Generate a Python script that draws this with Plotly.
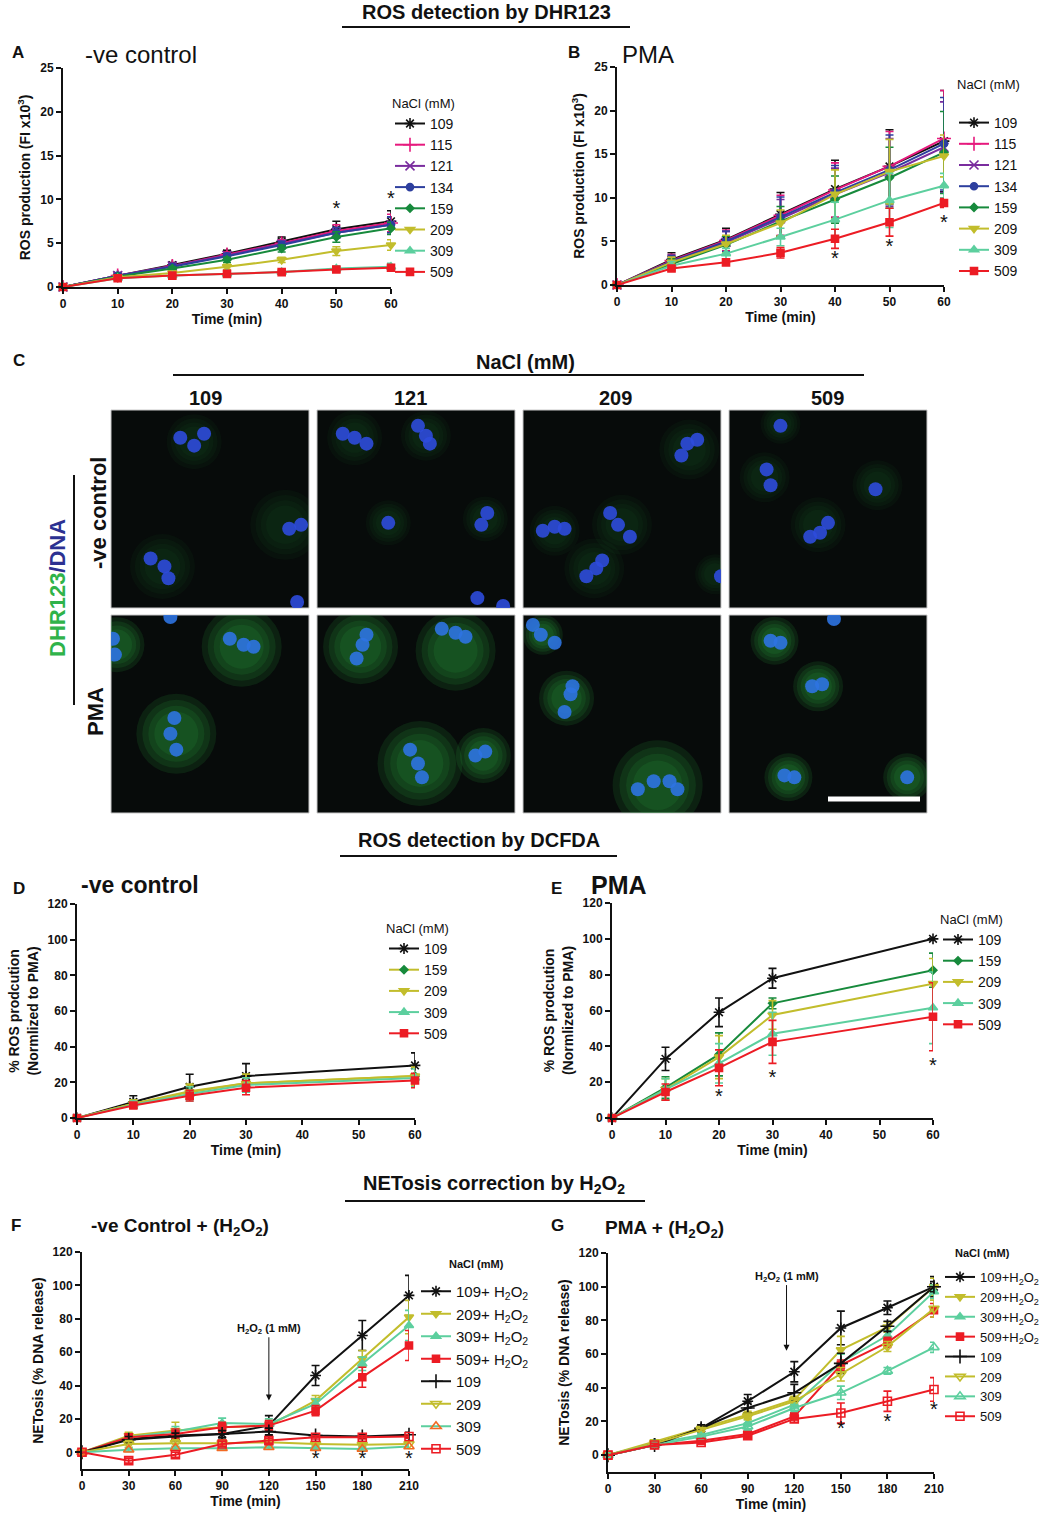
import plotly.graph_objects as go

W, H = 1042, 1516


def px(x):
    return x / W


def py(y):
    return 1 - y / H


# ---------------- data ----------------
nacl_ab = ['109', '115', '121', '134', '159', '209', '309', '509']
time_ab = [0, 10, 20, 30, 40, 50, 60]

a_mean = [
    [0, 1.3, 2.5, 3.8, 5.2, 6.6, 7.5],
    [0, 1.3, 2.4, 3.7, 5.0, 6.4, 7.3],
    [0, 1.3, 2.4, 3.6, 4.9, 6.2, 7.1],
    [0, 1.3, 2.3, 3.5, 4.8, 6.2, 7.1],
    [0, 1.2, 2.1, 3.1, 4.4, 5.7, 6.7],
    [0, 1.1, 1.6, 2.3, 3.1, 4.1, 4.8],
    [0, 1.0, 1.3, 1.5, 1.7, 2.1, 2.3],
    [0, 1.0, 1.3, 1.5, 1.7, 2.0, 2.2],
]
a_err = [
    [0, 0.2, 0.3, 0.4, 0.5, 0.9, 1.2],
    [0, 0.2, 0.3, 0.3, 0.4, 0.7, 1.0],
    [0, 0.2, 0.3, 0.3, 0.4, 0.6, 0.9],
    [0, 0.2, 0.3, 0.3, 0.4, 0.6, 0.9],
    [0, 0.2, 0.2, 0.3, 0.4, 0.6, 0.7],
    [0, 0.1, 0.2, 0.3, 0.3, 0.5, 0.6],
    [0, 0.1, 0.1, 0.1, 0.2, 0.3, 0.4],
    [0, 0.1, 0.1, 0.1, 0.2, 0.3, 0.3],
]
b_mean = [
    [0, 2.9, 5.2, 8.1, 11.0, 13.6, 16.5],
    [0, 2.8, 5.1, 8.0, 10.9, 13.6, 16.8],
    [0, 2.6, 4.9, 7.6, 10.4, 12.9, 15.8],
    [0, 2.7, 5.0, 7.8, 10.6, 13.2, 16.2],
    [0, 2.4, 4.6, 7.3, 9.8, 12.3, 15.2],
    [0, 2.6, 4.7, 7.1, 10.4, 13.0, 14.8],
    [0, 2.2, 3.6, 5.5, 7.5, 9.7, 11.4],
    [0, 1.9, 2.6, 3.7, 5.3, 7.2, 9.4],
]
b_err = [
    [0, 0.8, 1.3, 2.5, 3.3, 4.2, 5.8],
    [0, 0.7, 1.2, 2.3, 3.1, 4.0, 5.5],
    [0, 0.7, 1.2, 2.2, 3.0, 3.9, 5.2],
    [0, 0.7, 1.2, 2.3, 3.1, 4.0, 5.3],
    [0, 0.6, 1.0, 1.7, 2.7, 3.5, 4.7],
    [0, 0.6, 1.0, 1.5, 2.8, 3.7, 2.4],
    [0, 0.5, 0.6, 1.0, 2.0, 3.1, 1.4],
    [0, 0.3, 0.3, 0.6, 1.1, 1.6, 0.5],
]
stars_a_x = [50, 60]
stars_a_y = [8.8, 9.9]
stars_b_x = [40, 50, 60]
stars_b_y = [2.9, 4.2, 7.0]

nacl_de = ['109', '159', '209', '309', '509']
time_de = [0, 10, 20, 30, 60]
d_mean = [
    [0, 9.0, 17.5, 23.5, 29.5],
    [0, 8.0, 15.0, 19.5, 23.5],
    [0, 8.0, 14.5, 19.5, 23.5],
    [0, 7.5, 13.5, 18.5, 22.5],
    [0, 7.0, 12.5, 17.0, 21.0],
]
d_err = [
    [0, 3.5, 7, 7, 7],
    [0, 2, 4, 5, 5],
    [0, 2, 4, 5, 5],
    [0, 2, 4, 4, 5],
    [0, 1.5, 3, 4, 4],
]
e_mean = [
    [0, 33, 59, 78, 100],
    [0, 17, 35.5, 64, 82.5],
    [0, 16, 34, 57.5, 75],
    [0, 16, 30.5, 47, 61.5],
    [0, 14.5, 28, 42.5, 56.5],
]
e_err = [
    [0, 6.5, 8, 5.5, 0.5],
    [0, 6, 12, 3, 9.5],
    [0, 6, 12, 8, 14],
    [0, 6, 11, 12, 20],
    [0, 4.5, 10, 12, 19],
]
stars_e_x = [20, 30, 60]
stars_e_y = [11, 22, 28.7]

h2o2 = 'H<sub>2</sub>O<sub>2</sub>'
nacl_f = ['109+ ' + h2o2, '209+ ' + h2o2, '309+ ' + h2o2, '509+ ' + h2o2,
          '109', '209', '309', '509']
nacl_g = ['109+' + h2o2, '209+' + h2o2, '309+' + h2o2, '509+' + h2o2,
          '109', '209', '309', '509']
time_fg = [0, 30, 60, 90, 120, 150, 180, 210]
f_mean = [
    [0, 8, 10, 11, 16, 46, 70, 94],
    [0, 10, 13, 15, 16, 31, 56, 81],
    [0, 9, 12.5, 17.5, 17, 29, 53, 76],
    [0, 9, 11, 15, 16, 25, 45, 64],
    [0, 7.5, 9.5, 11, 12.5, 10, 9.5, 10.5],
    [0, 5, 5.5, 5.5, 6, 5, 4.5, 5],
    [0, 1.5, 2.5, 2.5, 3, 2.5, 2, 3.5],
    [0, -5, -1.5, 5, 7, 9, 9, 9.5],
]
f_err = [
    [0, 2, 3, 3, 6, 6, 9, 12],
    [0, 2, 5, 3, 3, 3, 5, 10],
    [0, 2, 3, 3, 3, 3, 4, 9],
    [0, 2, 3, 3, 3, 3, 6, 9],
    [0, 2, 2, 2, 2, 1, 1, 1.5],
    [0, 2, 2, 2, 1, 1, 1, 1],
    [0, 1, 1, 1, 1, 1, 1, 1],
    [0, 1.5, 1.5, 1.5, 1.5, 1, 1, 1],
]
g_mean = [
    [0, 7, 16, 32, 49.5, 75.5, 87.5, 100],
    [0, 8, 16, 24, 33, 62.5, 76, 100],
    [0, 7, 12, 19, 30, 55, 71, 97],
    [0, 6, 8.5, 12.5, 23, 53.5, 67, 86],
    [0, 6, 16, 28, 37, 54.5, 76.5, 100],
    [0, 7, 15, 23, 32, 48, 64.5, 87],
    [0, 6, 11, 17, 28, 37, 50, 64],
    [0, 6, 7.5, 11.5, 21.5, 25, 32, 39],
]
g_err = [
    [0, 1, 2, 4, 6, 10, 4, 6],
    [0, 1, 2, 2, 2, 8, 3, 5],
    [0, 1, 1, 2, 2, 5, 3, 4],
    [0, 1, 1, 1.5, 2, 3, 3, 4],
    [0, 1, 2, 3, 5, 6, 3, 3],
    [0, 1, 1, 2, 2, 4, 3, 5],
    [0, 1, 1, 2, 2, 4, 2, 3],
    [0, 1, 1, 1.5, 2, 6, 6, 7],
]
stars_f_x = [150, 180, 210]
stars_f_y = [-4.6, -4.6, -4.6]
stars_g_x = [150, 180, 210]
stars_g_y = [15, 19, 26]
arrow_f = (120, 31, 74)   # x, head y, label y
arrow_g = (115, 62, 106)

# microscopy panels: nuclei lobes (x, y) and glow (x, y, size), panel coords 0-1
ctrl109_nuc = [(0.35, 0.86), (0.42, 0.82), (0.47, 0.88), (0.90, 0.40), (0.96, 0.42),
               (0.20, 0.25), (0.27, 0.21), (0.29, 0.15), (0.94, 0.03)]
ctrl109_glow = [(0.42, 0.84, 55), (0.88, 0.42, 70), (0.26, 0.21, 65)]
ctrl121_nuc = [(0.13, 0.88), (0.19, 0.86), (0.25, 0.83), (0.51, 0.92), (0.55, 0.87),
               (0.57, 0.83), (0.36, 0.43), (0.83, 0.42), (0.86, 0.48), (0.81, 0.05), (0.94, 0.01)]
ctrl121_glow = [(0.19, 0.86, 55), (0.55, 0.87, 50), (0.36, 0.43, 45), (0.85, 0.45, 45)]
ctrl209_nuc = [(0.80, 0.77), (0.83, 0.83), (0.88, 0.85), (0.10, 0.39), (0.16, 0.41),
               (0.21, 0.40), (0.44, 0.48), (0.48, 0.42), (0.54, 0.36), (0.32, 0.16),
               (0.37, 0.20), (0.40, 0.24), (1.0, 0.16)]
ctrl209_glow = [(0.84, 0.80, 60), (0.16, 0.39, 50), (0.50, 0.42, 60), (0.36, 0.20, 60), (0.97, 0.17, 40)]
ctrl509_nuc = [(0.26, 0.92), (0.19, 0.70), (0.21, 0.62), (0.74, 0.60), (0.50, 0.43),
               (0.46, 0.38), (0.41, 0.36)]
ctrl509_glow = [(0.26, 0.93, 40), (0.18, 0.66, 50), (0.75, 0.62, 50), (0.45, 0.42, 55)]
pma109_nuc = [(0.01, 0.88), (0.02, 0.80), (0.60, 0.88), (0.67, 0.85), (0.72, 0.84),
              (0.32, 0.48), (0.30, 0.40), (0.33, 0.32), (0.30, 0.99)]
pma109_glow = [(0.03, 0.85, 55), (0.66, 0.84, 80), (0.33, 0.40, 80)]
pma121_nuc = [(0.20, 0.78), (0.23, 0.85), (0.25, 0.90), (0.63, 0.93), (0.70, 0.91),
              (0.75, 0.89), (0.47, 0.32), (0.51, 0.25), (0.53, 0.18), (0.80, 0.29), (0.85, 0.31)]
pma121_glow = [(0.22, 0.84, 75), (0.70, 0.82, 80), (0.52, 0.25, 85), (0.84, 0.29, 55)]
pma209_nuc = [(0.05, 0.95), (0.09, 0.90), (0.16, 0.86), (0.25, 0.64), (0.24, 0.60),
              (0.21, 0.51), (0.58, 0.12), (0.66, 0.16), (0.74, 0.16), (0.78, 0.12)]
pma209_glow = [(0.22, 0.58, 55), (0.68, 0.14, 90), (0.10, 0.90, 40)]
pma509_nuc = [(0.53, 0.98), (0.21, 0.87), (0.26, 0.86), (0.42, 0.64), (0.47, 0.65),
              (0.28, 0.19), (0.33, 0.18), (0.90, 0.18)]
pma509_glow = [(0.23, 0.87, 48), (0.45, 0.64, 50), (0.30, 0.18, 48), (0.90, 0.18, 48)]

# ---------------- styles ----------------
BLACK = '#111111'
PINK = '#e6197d'
PURPLE = '#7a2c9e'
BLUE = '#2d3f9e'
GREEN = '#178a3c'
YELLOW = '#c2bd2c'
TEAL = '#5ccf9e'
RED = '#ec1c24'
ORANGE = '#f26a22'
FONT = 'Liberation Sans'

style_ab = [(BLACK, 'asterisk-open', 9, BLACK), (PINK, 'cross-thin-open', 10, PINK),
            (PURPLE, 'x-thin-open', 9, PURPLE), (BLUE, 'circle', 7, BLUE),
            (GREEN, 'diamond', 6, GREEN), (YELLOW, 'triangle-down', 8, YELLOW),
            (TEAL, 'triangle-up', 8, TEAL), (RED, 'square', 7, RED)]
style_de = [style_ab[0], (YELLOW, 'diamond', 6, GREEN), style_ab[5], style_ab[6], style_ab[7]]
style_e = [style_ab[0], style_ab[4], style_ab[5], style_ab[6], style_ab[7]]
style_f = [(BLACK, 'asterisk-open', 9, BLACK), (YELLOW, 'triangle-down', 8, YELLOW),
           (TEAL, 'triangle-up', 8, TEAL), (RED, 'square', 7, RED),
           (BLACK, 'cross-thin-open', 10, BLACK), (YELLOW, 'triangle-down-open', 9, YELLOW),
           (TEAL, 'triangle-up-open', 9, ORANGE), (RED, 'square-open', 8, RED)]
style_g = style_f[:6] + [(TEAL, 'triangle-up-open', 9, TEAL), style_f[7]]

fig = go.Figure()


def add_series(n, x, ys, errs, names, styles, legend):
    for y, e, name, (lc, sym, size, mc) in zip(ys, errs, names, styles):
        fig.add_trace(go.Scatter(
            x=x, y=y, name=name, mode='lines+markers',
            xaxis='x' + str(n), yaxis='y' + str(n), legend=legend, cliponaxis=False,
            line=dict(color=lc, width=2),
            marker=dict(symbol=sym, size=size, color=mc, line=dict(color=mc, width=1.6)),
            error_y=dict(type='data', array=e, color=lc, thickness=1.6, width=4),
        ))


def add_stars(n, xs, ys):
    fig.add_trace(go.Scatter(
        x=xs, y=ys, mode='text', text=['*'] * len(xs), showlegend=False,
        xaxis='x' + str(n), yaxis='y' + str(n), cliponaxis=False,
        textfont=dict(family=FONT, size=20, color=BLACK)))


add_series(1, time_ab, a_mean, a_err, nacl_ab, style_ab, 'legend')
add_stars(1, stars_a_x, stars_a_y)
add_series(2, time_ab, b_mean, b_err, nacl_ab, style_ab, 'legend2')
add_stars(2, stars_b_x, stars_b_y)
add_series(3, time_de, d_mean, d_err, nacl_de, style_de, 'legend3')
add_series(4, time_de, e_mean, e_err, nacl_de, style_e, 'legend4')
add_stars(4, stars_e_x, stars_e_y)
add_series(5, time_fg, f_mean, f_err, nacl_f, style_f, 'legend5')
add_stars(5, stars_f_x, stars_f_y)
add_series(6, time_fg, g_mean, g_err, nacl_g, style_g, 'legend6')
add_stars(6, stars_g_x, stars_g_y)

# ---------------- chart axes ----------------
boxes = {1: (63, 391, 68, 287), 2: (617, 944, 67, 285), 3: (77, 415, 904, 1118),
         4: (612, 933, 903, 1118), 5: (82, 409, 1252, 1469), 6: (608, 934, 1253, 1472)}
ranges = {1: ([0, 60], [0, 25], 10, 5), 2: ([0, 60], [0, 25], 10, 5),
          3: ([0, 60], [0, 120], 10, 20), 4: ([0, 60], [0, 120], 10, 20),
          5: ([0, 210], [-10, 120], 30, 20), 6: ([0, 210], [-10, 120], 30, 20)}
ytitles = {1: 'ROS production (FI x10<sup>3</sup>)', 2: 'ROS production (FI x10<sup>3</sup>)',
           3: '% ROS prodcution<br>(Normlized to PMA)', 4: '% ROS prodcution<br>(Normlized to PMA)',
           5: 'NETosis (% DNA release)', 6: 'NETosis (% DNA release)'}

layout = {}
for n, (x0, x1, yt, yb) in boxes.items():
    xr, yr, dx, dy = ranges[n]
    tick = dict(family=FONT, size=12, color=BLACK, weight='bold')
    layout['xaxis' + str(n)] = dict(
        domain=[px(x0), px(x1)], range=xr, anchor='y' + str(n), showgrid=False, zeroline=False,
        showline=True, linewidth=2, linecolor=BLACK, ticks='outside', ticklen=5, tickwidth=2,
        tickcolor=BLACK, tickmode='linear', tick0=0, dtick=dx, tickfont=tick, automargin=False,
        title=dict(text='Time (min)', font=dict(family=FONT, size=14, color=BLACK, weight='bold'),
                   standoff=2))
    layout['yaxis' + str(n)] = dict(
        domain=[py(yb), py(yt)], range=yr, anchor='x' + str(n), showgrid=False, zeroline=False,
        showline=True, linewidth=2, linecolor=BLACK, ticks='outside', ticklen=5, tickwidth=2,
        tickcolor=BLACK, tickmode='linear', tick0=0, dtick=dy, tickfont=tick, automargin=False,
        title=dict(text=ytitles[n], font=dict(family=FONT, size=14, color=BLACK, weight='bold'),
                   standoff=6))

# ---------------- microscopy axes ----------------
col_px = [(111, 309), (317, 515), (523, 721), (729, 927)]
row_px = [(410, 608), (615, 813)]
panels = [(ctrl109_nuc, ctrl109_glow), (ctrl121_nuc, ctrl121_glow),
          (ctrl209_nuc, ctrl209_glow), (ctrl509_nuc, ctrl509_glow),
          (pma109_nuc, pma109_glow), (pma121_nuc, pma121_glow),
          (pma209_nuc, pma209_glow), (pma509_nuc, pma509_glow)]
shapes = []
for i, (nuc, glow) in enumerate(panels):
    n = 7 + i
    r, c = divmod(i, 4)
    x0, x1 = col_px[c]
    y0, y1 = row_px[r]
    shapes.append(dict(type='rect', xref='paper', yref='paper', x0=px(x0), x1=px(x1),
                       y0=py(y1), y1=py(y0), fillcolor='#070b0a',
                       line=dict(color='#c8c8c8', width=1), layer='below'))
    layout['xaxis' + str(n)] = dict(domain=[px(x0), px(x1)], range=[0, 1], visible=False,
                                    anchor='y' + str(n))
    layout['yaxis' + str(n)] = dict(domain=[py(y1), py(y0)], range=[0, 1], visible=False,
                                    anchor='x' + str(n))
    alpha = 0.07 if r == 0 else 0.2
    # soft glow: several faint layers stacked
    for scale in [1.0, 0.85, 0.7, 0.55]:
        fig.add_trace(go.Scatter(
            x=[g[0] for g in glow], y=[g[1] for g in glow], mode='markers', showlegend=False,
            xaxis='x' + str(n), yaxis='y' + str(n), hoverinfo='skip',
            marker=dict(size=[g[2] * scale for g in glow], color='rgba(40,170,65,%.2f)' % alpha,
                        line=dict(width=0))))
    nuc_color = 'rgba(45,75,220,0.9)' if r == 0 else 'rgba(45,115,225,0.9)'
    fig.add_trace(go.Scatter(
        x=[p[0] for p in nuc], y=[p[1] for p in nuc], mode='markers', showlegend=False,
        xaxis='x' + str(n), yaxis='y' + str(n), hoverinfo='skip',
        marker=dict(size=14, color=nuc_color, line=dict(width=0))))

# scale bar
shapes.append(dict(type='line', xref='paper', yref='paper', x0=px(828), x1=px(920),
                   y0=py(799), y1=py(799), line=dict(color='white', width=5)))

# header lines
for (lx0, lx1, ly) in [(342, 630, 27), (340, 617, 856), (345, 645, 1201), (173, 864, 375)]:
    shapes.append(dict(type='line', xref='paper', yref='paper', x0=px(lx0), x1=px(lx1),
                       y0=py(ly), y1=py(ly), line=dict(color=BLACK, width=2)))
shapes.append(dict(type='line', xref='paper', yref='paper', x0=px(74), x1=px(74),
                   y0=py(475), y1=py(705), line=dict(color=BLACK, width=2)))

annotations = []


def ann(text, x, y, size, bold=True, xanchor='center', angle=0, color=BLACK):
    annotations.append(dict(
        text=text, x=px(x), y=py(y), xref='paper', yref='paper', showarrow=False,
        xanchor=xanchor, yanchor='middle', textangle=angle,
        font=dict(family=FONT, size=size, color=color, weight='bold' if bold else 'normal')))


ann('ROS detection by DHR123', 486, 12, 20)
ann('ROS detection by DCFDA', 479, 840, 20)
ann('NETosis correction by ' + h2o2, 494, 1184, 20)
for letter, lx, ly in [('A', 18, 52), ('B', 574, 52), ('C', 19, 360), ('D', 19, 888),
                       ('E', 556, 888), ('F', 16, 1225), ('G', 557, 1225)]:
    ann(letter, lx, ly, 17)
ann('-ve control', 83, 55, 24, bold=False, xanchor='left')
ann('PMA', 620, 55, 24, bold=False, xanchor='left')
ann('-ve control', 79, 885, 23, xanchor='left')
ann('PMA', 589, 885, 25, xanchor='left')
ann('-ve Control + (' + h2o2 + ')', 89, 1227, 19, xanchor='left')
ann('PMA + (' + h2o2 + ')', 603, 1229, 19, xanchor='left')

ann('NaCl (mM)', 525, 362, 20)
for lbl, cx in zip(['109', '121', '209', '509'], [205, 410, 615, 827]):
    ann(lbl, cx, 398, 20)
ann('-ve control', 98, 513, 22, angle=-90)
ann('PMA', 96, 712, 22, angle=-90)
ann("<span style='color:#2fb34a'>DHR123</span><span style='color:#2c3192'>/DNA</span>",
    57, 588, 22, angle=-90)

# legend titles drawn separately where the gap to the first entry is unusual
ann('NaCl (mM)', 955, 84, 13, bold=False, xanchor='left')
ann('NaCl (mM)', 447, 1264, 11, xanchor='left')
ann('NaCl (mM)', 953, 1253, 11, xanchor='left')

# H2O2 arrows
for n, (ax_, head, lab) in [(5, arrow_f), (6, arrow_g)]:
    annotations.append(dict(
        text='H<sub>2</sub>O<sub>2</sub> (1 mM)', x=ax_, y=head, ax=ax_, ay=lab,
        xref='x' + str(n), yref='y' + str(n), axref='x' + str(n), ayref='y' + str(n),
        showarrow=True, arrowhead=2, arrowsize=1.2, arrowwidth=1, arrowcolor=BLACK,
        font=dict(family=FONT, size=11, color=BLACK, weight='bold')))

# legends: x, top y, font size, own title
legend_pos = {'legend': (390, 91, 14, True), 'legend2': (954, 107, 14, False),
              'legend3': (384, 916, 14, True), 'legend4': (938, 907, 14, True),
              'legend5': (416, 1275, 15, False), 'legend6': (940, 1262, 13, False)}
for key, (lx, ly, fs, titled) in legend_pos.items():
    layout[key] = dict(
        x=px(lx), y=py(ly), xanchor='left', yanchor='top', bgcolor='rgba(0,0,0,0)',
        font=dict(family=FONT, size=fs, color=BLACK), tracegroupgap=0, itemwidth=30,
        title=dict(text='NaCl (mM)' if titled else '', side='top',
                   font=dict(family=FONT, size=13, color=BLACK)))

fig.update_layout(
    width=W, height=H, margin=dict(l=0, r=0, t=0, b=0, autoexpand=False),
    paper_bgcolor='white', plot_bgcolor='rgba(0,0,0,0)',
    shapes=shapes, annotations=annotations, showlegend=True, **layout)

# no page margin or scrollbars, so the figure fills the window exactly
page_js = ("document.body.style.margin='0';"
           "document.body.style.overflow='hidden';"
           "document.documentElement.style.overflow='hidden';")
fig.write_html('out.html', config={'displayModeBar': False}, post_script=page_js)
